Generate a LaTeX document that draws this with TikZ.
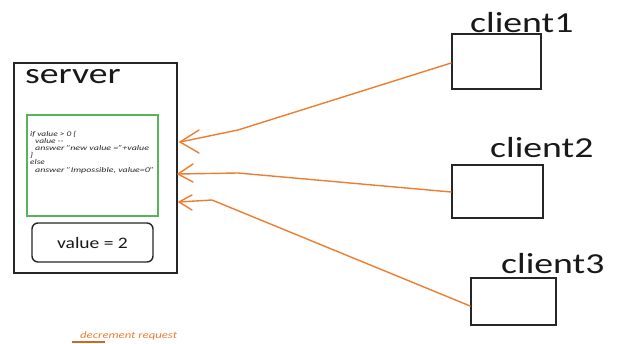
\documentclass[tikz,border=0pt]{standalone}
\usepackage{graphicx}
\usepackage{fontspec}
\setmainfont{Carlito}
\definecolor{arrorange}{RGB}{237,125,49}
\definecolor{codegreen}{RGB}{88,180,88}
\newcommand{\wide}[2][1.3]{\scalebox{#1}[1]{#2}}
\tikzset{
  boxline/.style={draw=black!85, line width=1.7pt},
  client/.style={boxline},
  bigtext/.style={inner sep=0pt, font=\fontsize{29}{29}\selectfont, text=black!90},
  codetext/.style={inner sep=0pt, anchor=base west, font=\fontsize{7.2}{7.2}\selectfont\itshape, text=black!85},
  req/.style={draw=arrorange, line width=1.4pt, line join=round, line cap=round},
}
\begin{document}
\begin{tikzpicture}[x=1pt,y=-1pt]
\useasboundingbox (0,0) rectangle (619,343);
% server
\draw[boxline] (14,63) rectangle (177,273);
\node[bigtext, anchor=base west] (srvlabel) at (25,83) {\wide{server}};
\draw[draw=codegreen, line width=1.5pt] (27,115) rectangle (158,216);
\node[codetext] (c1) at (30,136) {\wide{if value > 0 \{}};
\node[codetext] (c2) at (35,143.2) {\wide{value -{}-}};
\node[codetext] (c3) at (35,150.4) {\wide[1.38]{answer "new value ="+value}};
\node[codetext] (c4) at (30,157.6) {\wide{\}}};
\node[codetext] (c5) at (30,164.8) {\wide{else}};
\node[codetext] (c6) at (35,172) {\wide[1.38]{answer "Impossible, value=0"}};
\draw[draw=black!85, line width=1.4pt, rounded corners=6pt] (32,223) rectangle (153,262);
\node[inner sep=0pt, font=\fontsize{16}{16}\selectfont, text=black!90] (val) at (92.5,243) {\wide[1.22]{value = 2}};
% clients
\node[client, minimum width=89pt, minimum height=55pt, inner sep=0pt] (cl1) at (496.5,61.5) {};
\node[client, minimum width=91pt, minimum height=53pt, inner sep=0pt] (cl2) at (497.5,191.5) {};
\node[client, minimum width=85pt, minimum height=47pt, inner sep=0pt] (cl3) at (513.5,301.5) {};
\node[bigtext, anchor=base west] (l1) at (470,32) {\wide{client1}};
\node[bigtext, anchor=base west] (l2) at (490,157) {\wide{client2}};
\node[bigtext, anchor=base west] (l3) at (501,273) {\wide{client3}};
% request arrows
\coordinate (b1) at (238,130);
\coordinate (t1) at (180,142);
\coordinate (b2) at (238,173);
\coordinate (t2) at (178,174);
\coordinate (b3) at (212,200);
\coordinate (t3) at (179,202);
\draw[req] (cl1.west |- 0,63) -- (b1) -- (t1);
\draw[req] (t1) ++(19,-12) -- (t1) -- ++(19,11);
\draw[req] (cl2.west |- 0,192) -- (b2) -- (t2);
\draw[req] (t2) ++(15,-10) -- (t2) -- ++(15,8);
\draw[req] (cl3.west |- 0,306) -- (b3) -- (t3);
\draw[req] (t3) ++(13,-7) -- (t3) -- ++(13,8);
% legend
\coordinate (lg1) at (72,342);
\coordinate (lg2) at (105,342);
\draw[draw=arrorange!85!black, line width=1.3pt] (lg1) -- (lg2);
\node[inner sep=0pt, anchor=base west, font=\fontsize{9.8}{9.8}\selectfont\itshape, text=arrorange] (legend) at (80,338) {\wide{decrement request}};
\end{tikzpicture}
\end{document}
